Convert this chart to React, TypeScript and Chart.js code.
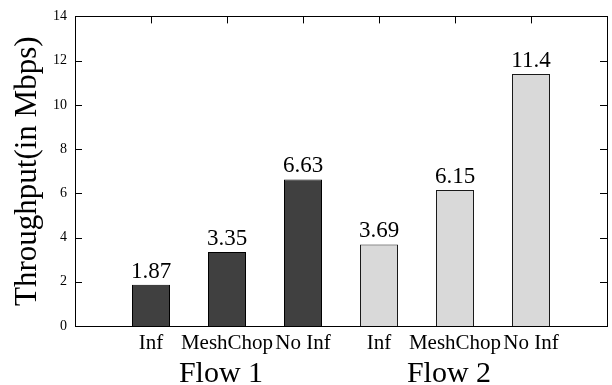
import React, { useEffect, useRef } from "react";
import { Chart, registerables } from "chart.js";

Chart.register(...registerables);

const categories = ["Inf", "MeshChop", "No Inf", "Inf", "MeshChop", "No Inf"];
const groups = ["Flow 1", "Flow 2"];
const flow1Values = [1.87, 3.35, 6.63];
const flow2Values = [3.69, 6.15, 11.4];
const valueLabels = ["1.87", "3.35", "6.63", "3.69", "6.15", "11.4"];
const yMin = 0;
const yMax = 14;
const yStep = 2;

const FONT = "'Liberation Serif', 'Times New Roman', serif";
const DARK = "#404040";
const LIGHT = "#d9d9d9";

export default function App() {
  const ref = useRef<HTMLCanvasElement | null>(null);

  useEffect(() => {
    if (!ref.current) return;
    const labels = ["", ...categories, ""];
    const values = [null, ...flow1Values, ...flow2Values, null];
    const bg = [
      "transparent",
      ...flow1Values.map(() => DARK),
      ...flow2Values.map(() => LIGHT),
      "transparent",
    ];
    const bc = [
      "transparent",
      ...flow1Values.map(() => "#000000"),
      ...flow2Values.map(() => "#1a1a1a"),
      "transparent",
    ];

    const decor = {
      id: "decor",
      afterDraw(chart: any) {
        const { ctx, chartArea } = chart;
        const { left, right, top, bottom } = chartArea;
        const xs = chart.scales.x;
        const ys = chart.scales.y;
        ctx.save();
        ctx.strokeStyle = "#000";
        ctx.lineWidth = 1;
        ctx.strokeRect(Math.round(left) + 0.5, Math.round(top) + 0.5, Math.round(right - left), Math.round(bottom - top));
        ctx.beginPath();
        for (let v = yMin; v <= yMax; v += yStep) {
          const y = Math.round(ys.getPixelForValue(v)) + 0.5;
          ctx.moveTo(left, y);
          ctx.lineTo(left + 7, y);
          ctx.moveTo(right, y);
          ctx.lineTo(right - 7, y);
        }
        for (let i = 1; i <= categories.length; i++) {
          const x = Math.round(xs.getPixelForValue(i)) + 0.5;
          ctx.moveTo(x, top);
          ctx.lineTo(x, top + 7);
        }
        ctx.stroke();

        const meta = chart.getDatasetMeta(0);
        ctx.fillStyle = "#000";
        ctx.font = `23px ${FONT}`;
        ctx.textAlign = "center";
        ctx.textBaseline = "alphabetic";
        for (let i = 1; i <= categories.length; i++) {
          const el = meta.data[i];
          if (!el) continue;
          ctx.fillText(valueLabels[i - 1], el.x, el.y - 7);
        }

        ctx.font = `30px ${FONT}`;
        const per = flow1Values.length;
        groups.forEach((g, gi) => {
          const mid = gi * per + 1 + (per - 1) / 2;
          const x = xs.getPixelForValue(mid) - 6;
          ctx.fillText(g, x, bottom + 56);
        });
        ctx.restore();
      },
    };

    const chart = new Chart(ref.current, {
      type: "bar",
      data: {
        labels,
        datasets: [
          {
            data: values as any,
            backgroundColor: bg,
            borderColor: bc,
            borderWidth: 1,
            borderSkipped: "start",
            barPercentage: 0.5,
            categoryPercentage: 1,
          },
        ],
      },
      options: {
        animation: false,
        responsive: true,
        maintainAspectRatio: false,
        layout: { padding: { top: 13, right: 5, left: 0, bottom: 0 } },
        plugins: {
          legend: { display: false },
          tooltip: { enabled: false },
        },
        scales: {
          x: {
            type: "category",
            offset: false,
            grid: { display: false, drawTicks: false },
            border: { display: false },
            ticks: {
              autoSkip: false,
              maxRotation: 0,
              minRotation: 0,
              color: "#000",
              padding: 5,
              font: { family: FONT, size: 21 },
            },
            afterFit: (scale: any) => {
              scale.height = 59;
            },
          },
          y: {
            min: yMin,
            max: yMax,
            grid: { display: false, drawTicks: false },
            border: { display: false },
            ticks: {
              stepSize: yStep,
              color: "#000",
              padding: 8,
              font: { family: FONT, size: 14 },
            },
            title: {
              display: true,
              text: "Throughput(in Mbps)",
              color: "#000",
              font: { family: FONT, size: 31 },
              padding: { top: 9, bottom: 0 },
            },
            afterFit: (scale: any) => {
              scale.width = 75;
            },
          },
        },
      },
      plugins: [decor],
    });
    return () => chart.destroy();
  }, []);

  return (
    <div style={{ position: "absolute", left: 0, top: 0, width: 612, height: 385, background: "#fff" }}>
      <canvas ref={ref} />
    </div>
  );
}
